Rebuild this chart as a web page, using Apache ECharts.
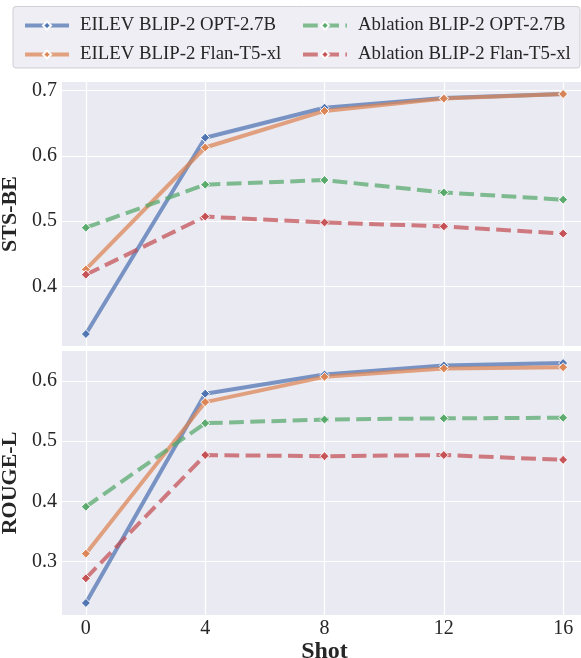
<!DOCTYPE html>
<html>
<head>
<meta charset="utf-8">
<script src="https://cdn.jsdelivr.net/npm/echarts@6/dist/echarts.min.js"></script>
<style>
html,body{margin:0;padding:0;background:#fff;}
#chart{width:581px;height:658px;}
</style>
</head>
<body>
<div id="chart"></div>
<script>
// ---- data ----
const shots = [0, 4, 8, 12, 16];
const seriesNames = ['EILEV BLIP-2 OPT-2.7B', 'EILEV BLIP-2 Flan-T5-xl', 'Ablation BLIP-2 OPT-2.7B', 'Ablation BLIP-2 Flan-T5-xl'];
const stsEilevOpt   = [0.327, 0.628, 0.674, 0.689, 0.695];
const stsEilevFlan  = [0.426, 0.613, 0.669, 0.688, 0.695];
const stsAblOpt     = [0.490, 0.556, 0.563, 0.544, 0.533];
const stsAblFlan    = [0.418, 0.507, 0.498, 0.492, 0.481];
const rougeEilevOpt  = [0.231, 0.579, 0.611, 0.626, 0.630];
const rougeEilevFlan = [0.313, 0.565, 0.607, 0.621, 0.623];
const rougeAblOpt    = [0.391, 0.530, 0.536, 0.538, 0.539];
const rougeAblFlan   = [0.272, 0.477, 0.475, 0.477, 0.469];
const xTicks = [0, 4, 8, 12, 16];
const stsTicks = [0.4, 0.5, 0.6, 0.7];
const rougeTicks = [0.3, 0.4, 0.5, 0.6];

// ---- style ----
const colors = ['#4C72B0', '#DD8452', '#55A868', '#C44E52'];
const FONT = '"Liberation Serif", "DejaVu Serif", serif';
const textColor = '#262626';
const panelBg = '#EAEAF2';

function pair(xs, ys) { return xs.map((x, i) => [x, ys[i]]); }

function mkSeries(idx, data, gi) {
  const dashed = idx >= 2;
  return {
    name: seriesNames[idx],
    type: 'line',
    xAxisIndex: gi, yAxisIndex: gi,
    data: pair(shots, data),
    symbol: 'diamond',
    symbolSize: 9,
    showSymbol: true,
    animation: false,
    lineStyle: { color: colors[idx], width: 4, opacity: 0.72, type: dashed ? [14.8, 6.4] : 'solid', cap: 'butt' },
    itemStyle: { color: colors[idx], borderColor: '#ffffff', borderWidth: 1, opacity: 0.95 },
    emphasis: { disabled: true }
  };
}

function xAxis(gi, showLabels) {
  return {
    type: 'value', gridIndex: gi, min: -0.8, max: 16.8,
    axisLine: { show: false }, axisTick: { show: false, customValues: xTicks },
    axisLabel: { show: showLabels, customValues: xTicks, fontFamily: FONT, fontSize: 20, color: textColor, margin: 4 },
    splitLine: { show: true, lineStyle: { color: '#ffffff', width: 1.2 } },
    name: showLabels ? 'Shot' : '', nameLocation: 'middle', nameGap: 16,
    nameTextStyle: { fontFamily: FONT, fontSize: 24, fontWeight: 'bold', color: textColor }
  };
}
function yAxis(gi, min, max, ticks, name) {
  return {
    type: 'value', gridIndex: gi, min: min, max: max,
    axisLine: { show: false }, axisTick: { show: false, customValues: ticks },
    axisLabel: { customValues: ticks, fontFamily: FONT, fontSize: 20, color: textColor, margin: 5,
      formatter: v => v.toFixed(1) },
    splitLine: { show: true, lineStyle: { color: '#ffffff', width: 1.2 } },
    name: name, nameLocation: 'middle', nameGap: 33, nameRotate: 90,
    nameTextStyle: { fontFamily: FONT, fontSize: 22, fontWeight: 'bold', color: textColor }
  };
}

const legendCommon = {
  orient: 'vertical', top: 11, itemWidth: 44, itemHeight: 10, itemGap: 10,
  textStyle: { fontFamily: FONT, fontSize: 18.8, color: textColor, padding: [0, 0, 0, 6] },
  lineStyle: { width: 4 },
  selectedMode: false
};

const chart = echarts.init(document.getElementById('chart'), null, { renderer: 'canvas' });
chart.setOption({
  animation: false,
  backgroundColor: '#ffffff',
  graphic: [{
    type: 'rect', left: 12.5, top: 6, z: -1,
    shape: { width: 567, height: 61.5, r: 3 },
    style: { fill: '#EEEEF4', stroke: '#CFCFD4', lineWidth: 1 }
  }],
  legend: [
    Object.assign({ left: 18, data: [seriesNames[0], seriesNames[1]] }, legendCommon),
    Object.assign({ left: 296, data: [seriesNames[2], seriesNames[3]] }, legendCommon)
  ],
  grid: [
    { left: 62, top: 82, width: 525, height: 264, show: true, backgroundColor: panelBg, borderWidth: 0, containLabel: false, outerBoundsMode: 'none' },
    { left: 62, top: 351, width: 525, height: 264, show: true, backgroundColor: panelBg, borderWidth: 0, containLabel: false, outerBoundsMode: 'none' }
  ],
  xAxis: [xAxis(0, false), xAxis(1, true)],
  yAxis: [
    yAxis(0, 0.3086, 0.7134, stsTicks, 'STS-BE'),
    yAxis(1, 0.211, 0.650, rougeTicks, 'ROUGE-L')
  ],
  series: [
    mkSeries(0, stsEilevOpt, 0), mkSeries(1, stsEilevFlan, 0), mkSeries(2, stsAblOpt, 0), mkSeries(3, stsAblFlan, 0),
    mkSeries(0, rougeEilevOpt, 1), mkSeries(1, rougeEilevFlan, 1), mkSeries(2, rougeAblOpt, 1), mkSeries(3, rougeAblFlan, 1)
  ]
});
</script>
</body>
</html>
